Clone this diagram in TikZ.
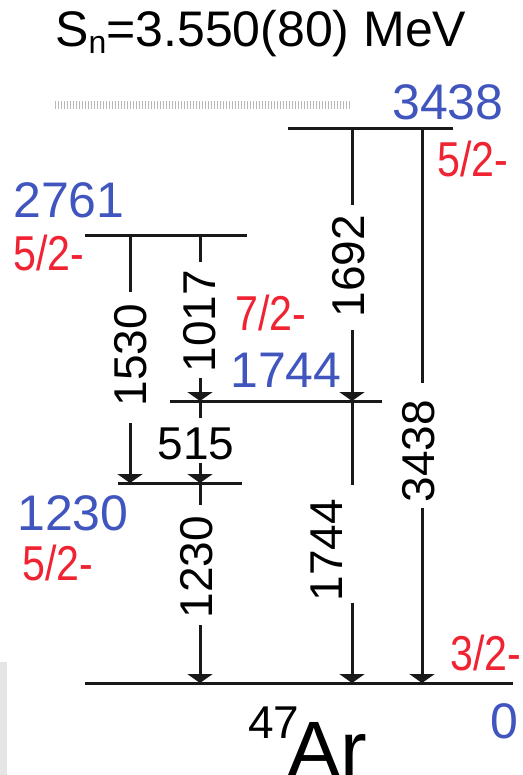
\documentclass[tikz,border=0pt]{standalone}
\usepackage{fontspec}
\setmainfont{Liberation Sans}
\usetikzlibrary{arrows.meta}
\definecolor{lvblue}{RGB}{65,85,190}
\definecolor{jpred}{RGB}{240,35,50}
\begin{document}
\begin{tikzpicture}[x=1pt,y=-1pt,
 level/.style={line width=3pt, black!90},
 gam/.style={line width=3pt, black!90},
 gamarrow/.style={gam, -{Triangle[width=25pt,length=9pt]}},
 elab/.style={text=lvblue, font=\fontsize{50}{50}\selectfont, anchor=base west, inner sep=0pt},
 jlab/.style={text=jpred, font=\fontsize{49}{49}\selectfont, anchor=base west, inner sep=0pt, xscale=0.84},
 glab/.style={font=\fontsize{46}{46}\selectfont, rotate=90, inner sep=0pt, anchor=center},
]
\useasboundingbox (0,0) rectangle (522,775);
\fill[white] (0,0) rectangle (522,775);
\fill[black!10] (0,662) rectangle (7,775);

% title
\node[anchor=base west, inner sep=0pt, font=\fontsize{50}{50}\selectfont] (title) at (55,47)
  {S\raisebox{-7pt}{\fontsize{32}{32}\selectfont n}=3.550(80) MeV};

% Sn dotted line
\coordinate (snA) at (55,105);
\coordinate (snB) at (350,105);
\draw[gray!55, line width=8pt, dash pattern=on 1.3pt off 1.7pt] (snA) -- (snB);

% levels
\coordinate (l3438a) at (288,129); \coordinate (l3438b) at (453,129);
\coordinate (l2761a) at (85,236);  \coordinate (l2761b) at (247,236);
\coordinate (l1744a) at (170,401); \coordinate (l1744b) at (382,401);
\coordinate (l1230a) at (118,483); \coordinate (l1230b) at (242,483);
\coordinate (l0a) at (85,683);     \coordinate (l0b) at (513,683);
\draw[level] (l3438a) -- (l3438b);
\draw[level] (l2761a) -- (l2761b);
\draw[level] (l1744a) -- (l1744b);
\draw[level] (l1230a) -- (l1230b);
\draw[level] (l0a) -- (l0b);

% level labels
\node[elab] (e3438) at (392,120) {3438};
\node[jlab] (j3438) at (437,177) {5/2-};
\node[elab] (e2761) at (13,218) {2761};
\node[jlab] (j2761) at (13,270) {5/2-};
\node[jlab] (j1744) at (235,330) {7/2-};
\node[elab] (e1744) at (230,387) {1744};
\node[elab] (e1230) at (17,530) {1230};
\node[jlab] (j1230) at (22,580) {5/2-};
\node[jlab] (j0) at (450,670) {3/2-};
\node[elab] (e0) at (490,738) {0};
\node[anchor=base west, inner sep=0pt, font=\fontsize{46}{46}\selectfont] (mass) at (248,738) {47};
\node[anchor=base west, inner sep=0pt, font=\fontsize{80}{80}\selectfont] (elem) at (287,777) {Ar};

% gamma 1692
\coordinate (g1692a) at (352,129); \coordinate (g1692b) at (352,205);
\coordinate (g1692c) at (352,330); \coordinate (g1692d) at (352,401);
\node[glab] (t1692) at (349,266) {1692};
\draw[gam] (g1692a) -- (g1692b);
\draw[gamarrow] (g1692c) -- (g1692d);

% gamma 3438
\coordinate (g3438a) at (422,129); \coordinate (g3438b) at (422,383);
\coordinate (g3438c) at (422,508); \coordinate (g3438d) at (422,683);
\node[glab] (t3438) at (419,451) {3438};
\draw[gam] (g3438a) -- (g3438b);
\draw[gamarrow] (g3438c) -- (g3438d);

% gamma 1530
\coordinate (g1530a) at (130,236); \coordinate (g1530b) at (130,292);
\coordinate (g1530c) at (130,423); \coordinate (g1530d) at (130,483);
\node[glab] (t1530) at (131,355) {1530};
\draw[gam] (g1530a) -- (g1530b);
\draw[gamarrow] (g1530c) -- (g1530d);

% gamma 1017
\coordinate (g1017a) at (200,236); \coordinate (g1017b) at (200,262);
\coordinate (g1017c) at (200,378); \coordinate (g1017d) at (200,401);
\node[glab] (t1017) at (200,321) {1017};
\draw[gam] (g1017a) -- (g1017b);
\draw[gamarrow] (g1017c) -- (g1017d);

% gamma 515
\coordinate (g515a) at (200,401); \coordinate (g515b) at (200,418);
\coordinate (g515c) at (200,463); \coordinate (g515d) at (200,483);
\node[anchor=base, inner sep=0pt, font=\fontsize{46}{46}\selectfont] (t515) at (196,459) {515};
\draw[gam] (g515a) -- (g515b);
\draw[gamarrow] (g515c) -- (g515d);

% gamma 1230
\coordinate (g1230a) at (200,483); \coordinate (g1230b) at (200,505);
\coordinate (g1230c) at (200,625); \coordinate (g1230d) at (200,683);
\node[glab] (t1230) at (197,567) {1230};
\draw[gam] (g1230a) -- (g1230b);
\draw[gamarrow] (g1230c) -- (g1230d);

% gamma 1744
\coordinate (g1744a) at (352,401); \coordinate (g1744b) at (352,485);
\coordinate (g1744c) at (352,603); \coordinate (g1744d) at (352,683);
\node[glab] (t1744) at (327,550) {1744};
\draw[gam] (g1744a) -- (g1744b);
\draw[gamarrow] (g1744c) -- (g1744d);
\end{tikzpicture}
\end{document}
